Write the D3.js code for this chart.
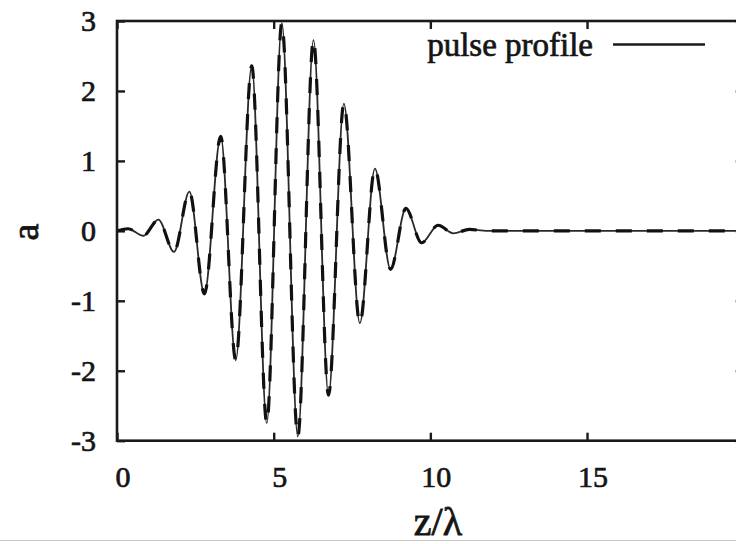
<!DOCTYPE html>
<html>
<head>
<meta charset="utf-8">
<script src="https://cdn.jsdelivr.net/npm/d3@7"></script>
<style>
  html, body { margin: 0; padding: 0; background: #fff; }
  svg { display: block; }
  text { font-family: "Liberation Serif", "Times New Roman", serif; fill: #151515; }
</style>
</head>
<body>
<svg id="chart" width="736" height="544"></svg>
<script>
// Pulse profile: positions (z/λ) of the extrema and the field amplitude a there
const zValues = [0, 0.35, 0.84, 1.32, 1.82, 2.31, 2.79, 3.31, 3.79, 4.30, 4.78, 5.26, 5.77,
                 6.27, 6.75, 7.24, 7.75, 8.23, 8.73, 9.22, 9.72, 10.25, 10.73, 11.25, 11.8, 20];
const aValues = [0, 0.03, -0.07, 0.16, -0.30, 0.56, -0.90, 1.35, -1.85, 2.36, -2.75, 2.97, -2.94,
                 2.73, -2.35, 1.82, -1.32, 0.89, -0.55, 0.32, -0.17, 0.08, -0.035, 0.02, 0, 0];

const xTicks = [0, 5, 10, 15, 20];
const xTickLabels = ["0", "5", "10", "15", ""];
const yTicks = [-3, -2, -1, 0, 1, 2, 3];
const yTickLabels = ["-3", "-2", "-1", "0", "1", "2", "3"];
const seriesName = "pulse profile";
const xLabel = "z/λ";
const yLabel = "a";

const svg = d3.select("#chart");
const plotLeft = 117, plotRight = 743.7, plotTop = 21, plotBottom = 440.7;

const x = d3.scaleLinear().domain([0, 20]).range([plotLeft, plotRight]);
const y = d3.scaleLinear().domain([-3, 3]).range([plotBottom, plotTop]);

const data = zValues.map((z, i) => ({ z, a: aValues[i] }));

// Axes with inward ticks on all four sides
const tickFont = 30;
const gLeft = svg.append("g").attr("transform", `translate(${plotLeft},0)`)
  .call(d3.axisLeft(y).tickValues(yTicks).tickSize(-8).tickPadding(21)
    .tickFormat((d, i) => yTickLabels[i]));
const gBottom = svg.append("g").attr("transform", `translate(0,${plotBottom})`)
  .call(d3.axisBottom(x).tickValues(xTicks).tickSize(-8).tickPadding(25)
    .tickFormat((d, i) => xTickLabels[i]));
const gRight = svg.append("g").attr("transform", `translate(${plotRight},0)`)
  .call(d3.axisRight(y).tickValues(yTicks).tickSize(-8).tickFormat(""));
const gTop = svg.append("g").attr("transform", `translate(0,${plotTop})`)
  .call(d3.axisTop(x).tickValues(xTicks).tickSize(-8).tickFormat(""));

[gLeft, gBottom, gRight, gTop].forEach(g => {
  g.select(".domain").remove();
  g.selectAll(".tick line").attr("stroke", "#1a1a1a").attr("stroke-width", 2.4);
  g.selectAll(".tick text")
    .attr("font-family", "Liberation Serif, serif")
    .attr("font-size", tickFont)
    .attr("fill", "#151515")
    .attr("stroke", "#151515").attr("stroke-width", 0.7);
});
gBottom.selectAll(".tick text").attr("dx", 5.5);

// Pulse curve: solid trace with a heavier dashed trace over it
const line = d3.line()
  .x(d => x(d.z))
  .y(d => y(d.a))
  .curve(d3.curveMonotoneX);

const plot = svg.append("g");
plot.append("defs").append("clipPath").attr("id", "plotClip")
  .append("rect").attr("x", plotLeft).attr("y", plotTop - 2)
  .attr("width", plotRight - plotLeft).attr("height", plotBottom - plotTop + 4);

plot.append("path")
  .datum(data)
  .attr("clip-path", "url(#plotClip)")
  .attr("d", line)
  .attr("fill", "none")
  .attr("stroke", "#2a2a2a")
  .attr("stroke-width", 1.8);

plot.append("path")
  .datum(data)
  .attr("clip-path", "url(#plotClip)")
  .attr("d", line)
  .attr("fill", "none")
  .attr("stroke", "#111")
  .attr("stroke-width", 3.2)
  .attr("stroke-dasharray", "16,15");

// Frame
svg.append("rect")
  .attr("x", plotLeft).attr("y", plotTop)
  .attr("width", plotRight - plotLeft).attr("height", plotBottom - plotTop)
  .attr("fill", "none").attr("stroke", "#1a1a1a").attr("stroke-width", 2.6);

// Legend
svg.append("text")
  .attr("x", 593).attr("y", 56)
  .attr("text-anchor", "end")
  .attr("font-size", 33)
  .attr("stroke", "#151515").attr("stroke-width", 0.7)
  .text(seriesName);
svg.append("line")
  .attr("x1", 613).attr("x2", 705).attr("y1", 44.5).attr("y2", 44.5)
  .attr("stroke", "#1a1a1a").attr("stroke-width", 2.6);

// Axis titles
svg.append("text")
  .attr("x", 438).attr("y", 535)
  .attr("text-anchor", "middle")
  .attr("font-size", 40)
  .attr("stroke", "#151515").attr("stroke-width", 0.8)
  .text(xLabel);
svg.append("text")
  .attr("transform", "translate(38,232) rotate(-90)")
  .attr("text-anchor", "middle")
  .attr("font-size", 38)
  .attr("stroke", "#151515").attr("stroke-width", 0.8)
  .text(yLabel);

// Lower edge rule
svg.append("line")
  .attr("x1", 0).attr("x2", 736).attr("y1", 540.5).attr("y2", 540.5)
  .attr("stroke", "#c8c8c8").attr("stroke-width", 1.2);
</script>
</body>
</html>
